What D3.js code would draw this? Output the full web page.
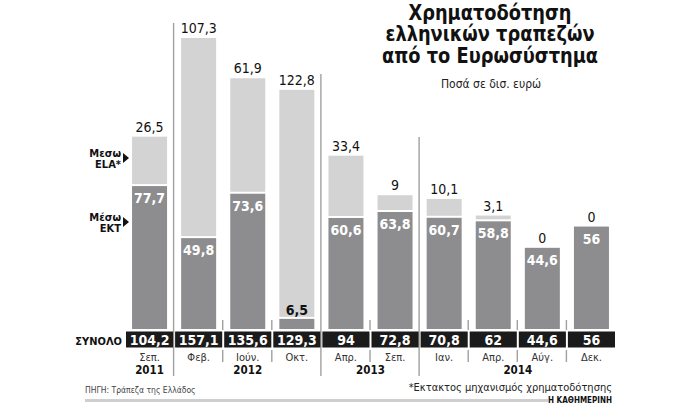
<!DOCTYPE html>
<html>
<head>
<meta charset="utf-8">
<script src="https://cdn.jsdelivr.net/npm/d3@7"></script>
<style>
  body { margin: 0; background: #fff; }
  svg { display: block; font-family: "Liberation Sans Narrow", "DejaVu Sans Condensed", "Liberation Sans", sans-serif; }
</style>
</head>
<body>
<div id="chart"></div>
<script>
const months = ["Σεπ.", "Φεβ.", "Ιούν.", "Οκτ.", "Απρ.", "Σεπ.", "Ιαν.", "Απρ.", "Αύγ.", "Δεκ."]
const years = ["2011", "2012", "2012", "2012", "2013", "2013", "2014", "2014", "2014", "2014"]
const viaEla = [26.5, 107.3, 61.9, 122.8, 33.4, 9, 10.1, 3.1, 0, 0]
const viaEcb = [77.7, 49.8, 73.6, 6.5, 60.6, 63.8, 60.7, 58.8, 44.6, 56]
const totals = [104.2, 157.1, 135.6, 129.3, 94, 72.8, 70.8, 62, 44.6, 56]

const width = 700
const height = 404
const fmt = v => String(v).replace(".", ",")

const svg = d3.select("#chart")
  .append("svg")
  .attr("width", width)
  .attr("height", height)

const idx = months.map((m, i) => i)

const x = d3.scaleBand()
  .domain(idx)
  .range([125, 616])

const y = d3.scaleLinear()
  .domain([0, 157.1])
  .range([331, 38])

const bw = 35
const cx = i => x(i) + x.bandwidth() / 2

// year separators start at different heights in the original layout
const sepTop = { 1: 23, 4: 74, 6: 137 }

// Separators: long ones between years, short ticks between months
idx.slice(1).forEach(i => {
  const sx = x(i) - 0.5
  if (years[i] !== years[i - 1]) {
    svg.append("line")
      .attr("x1", sx).attr("x2", sx)
      .attr("y1", sepTop[i]).attr("y2", 376)
      .attr("stroke", "#a0a0a0")
      .attr("stroke-width", 1.4)
  } else {
    [[320, 330], [350, 362]].forEach(([a, b]) => {
      svg.append("line")
        .attr("x1", sx).attr("x2", sx)
        .attr("y1", a).attr("y2", b)
        .attr("stroke", "#a0a0a0")
        .attr("stroke-width", 1.4)
    })
  }
})

// ECB segments
svg.selectAll(".ecb")
  .data(idx)
  .join("rect")
  .attr("class", "ecb")
  .attr("x", i => cx(i) - bw / 2)
  .attr("y", i => y(viaEcb[i]))
  .attr("width", bw)
  .attr("height", i => y(0) - y(viaEcb[i]) - 2)
  .attr("fill", "#8d8d8f")

// ELA segments
svg.selectAll(".ela")
  .data(idx.filter(i => viaEla[i] > 0))
  .join("rect")
  .attr("class", "ela")
  .attr("x", i => cx(i) - bw / 2)
  .attr("y", i => y(viaEla[i] + viaEcb[i]))
  .attr("width", bw)
  .attr("height", i => Math.max(0, y(viaEcb[i]) - y(viaEla[i] + viaEcb[i]) - 2))
  .attr("fill", "#d3d3d4")

// ELA labels on top
svg.selectAll(".ela-label")
  .data(idx)
  .join("text")
  .attr("x", cx)
  .attr("y", i => y(viaEla[i] + viaEcb[i]) - 5)
  .attr("text-anchor", "middle")
  .attr("font-size", 14)
  .attr("fill", "#111")
  .text(i => fmt(viaEla[i]))

// ECB labels
svg.selectAll(".ecb-label")
  .data(idx)
  .join("text")
  .attr("x", cx)
  .attr("y", i => {
    const h = y(0) - y(viaEcb[i])
    return h < 25 ? y(viaEcb[i]) - 4 : y(viaEcb[i]) + 17
  })
  .attr("text-anchor", "middle")
  .attr("font-size", 14)
  .attr("font-weight", "bold")
  .attr("fill", i => (y(0) - y(viaEcb[i]) < 25 ? "#111" : "#fff"))
  .text(i => fmt(viaEcb[i]))

// Totals row
svg.selectAll(".tot-box")
  .data(idx)
  .join("rect")
  .attr("x", i => x(i) + 1)
  .attr("y", 331.5)
  .attr("width", x.bandwidth() - 2)
  .attr("height", 16)
  .attr("fill", "#1b1b1b")

svg.selectAll(".tot-label")
  .data(idx)
  .join("text")
  .attr("x", cx)
  .attr("y", 345)
  .attr("text-anchor", "middle")
  .attr("font-size", 14)
  .attr("font-weight", "bold")
  .attr("fill", "#fff")
  .text(i => fmt(totals[i]))

svg.append("text")
  .attr("x", 122).attr("y", 344.5)
  .attr("text-anchor", "end")
  .attr("font-size", 11)
  .attr("font-weight", "bold")
  .attr("fill", "#111")
  .text("ΣΥΝΟΛΟ")

// Month labels
svg.selectAll(".month")
  .data(idx)
  .join("text")
  .attr("x", cx)
  .attr("y", 361)
  .attr("text-anchor", "middle")
  .attr("font-size", 11)
  .attr("fill", "#333")
  .text(i => months[i])

// Year labels centred on their groups
const yearGroups = d3.groups(idx, i => years[i])
svg.selectAll(".year")
  .data(yearGroups)
  .join("text")
  .attr("x", ([, g]) => (cx(g[0]) + cx(g[g.length - 1])) / 2)
  .attr("y", 374)
  .attr("text-anchor", "middle")
  .attr("font-size", 11.5)
  .attr("font-weight", "bold")
  .attr("fill", "#111")
  .text(([yr]) => yr)

// Side legend
const legend = [
  { lines: ["Μεσω", "ELA*"], y: 157 },
  { lines: ["Μέσω", "ΕΚΤ"], y: 221 }
]
legend.forEach(l => {
  l.lines.forEach((t, k) => {
    svg.append("text")
      .attr("x", 121).attr("y", l.y + k * 10.5)
      .attr("text-anchor", "end")
      .attr("font-size", 11)
      .attr("font-weight", "bold")
      .attr("fill", "#111")
      .text(t)
  })
  svg.append("path")
    .attr("d", `M123,${l.y - 4}L129,${l.y + 1}L123,${l.y + 6}Z`)
    .attr("fill", "#111")
})

// Title block, squeezed horizontally like the condensed newspaper face
const title = ["Χρηματοδότηση", "ελληνικών τραπεζών", "από το Ευρωσύστημα"]
const titleG = svg.append("g")
  .attr("transform", "translate(490,0) scale(0.9,1)")

titleG.selectAll(".title")
  .data(title)
  .join("text")
  .attr("x", 0)
  .attr("y", (d, k) => 20 + k * 21.5)
  .attr("text-anchor", "middle")
  .attr("font-size", 22)
  .attr("font-weight", "bold")
  .attr("fill", "#111")
  .text(d => d)

svg.append("text")
  .attr("x", 491).attr("y", 88)
  .attr("text-anchor", "middle")
  .attr("font-size", 12)
  .attr("fill", "#222")
  .text("Ποσά σε δισ. ευρώ")

// Footer
svg.append("text")
  .attr("x", 85).attr("y", 393)
  .attr("font-size", 8.5)
  .attr("fill", "#444")
  .text("ΠΗΓΗ: Τράπεζα της Ελλάδος")

svg.append("text")
  .attr("x", 612).attr("y", 391)
  .attr("text-anchor", "end")
  .attr("font-size", 11)
  .attr("fill", "#222")
  .text("*Εκτακτος μηχανισμός χρηματοδότησης")

svg.append("line")
  .attr("x1", 85).attr("x2", 548)
  .attr("y1", 400.5).attr("y2", 400.5)
  .attr("stroke", "#cfcfcf")
  .attr("stroke-width", 3)

svg.append("text")
  .attr("x", 612).attr("y", 403)
  .attr("text-anchor", "end")
  .attr("font-size", 8)
  .attr("font-weight", "bold")
  .attr("fill", "#111")
  .text("Η ΚΑΘΗΜΕΡΙΝΗ")
</script>
</body>
</html>
